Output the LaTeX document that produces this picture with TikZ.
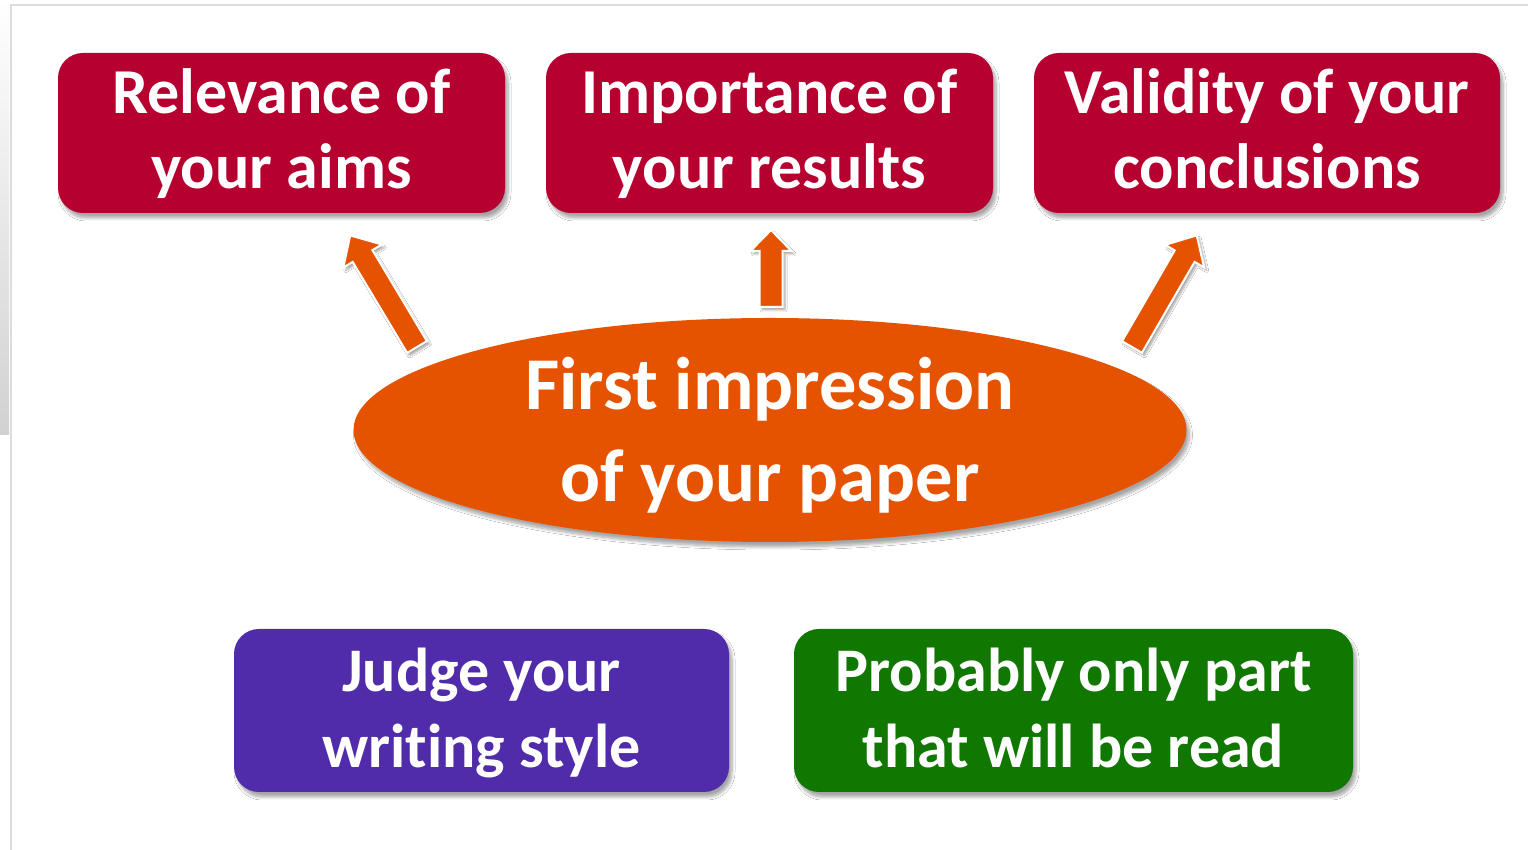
\documentclass[tikz,border=0pt]{standalone}
\usepackage{fontspec}
\setmainfont{Carlito}[Ligatures=NoCommon]
\usetikzlibrary{shapes.geometric,shadows,shadows.blur}
\definecolor{boxred}{RGB}{181,0,48}
\definecolor{ellorange}{RGB}{229,83,0}
\definecolor{boxpurple}{RGB}{81,44,170}
\definecolor{boxgreen}{RGB}{16,120,0}
\definecolor{framegray}{RGB}{220,220,220}
\tikzset{
  softshadow/.style={blur shadow={shadow xshift=3pt,shadow yshift=-5pt,shadow blur radius=3pt,shadow blur steps=8,shadow opacity=35}},
  topbox/.style={rounded corners=25pt, fill=boxred, minimum width=447pt, minimum height=160pt,
     text=white, font=\fontsize{64pt}{75pt}\selectfont\bfseries, align=center, inner sep=0pt,
     text depth=8pt, softshadow},
  lowbox/.style={rounded corners=25pt, minimum height=163pt,
     text=white, font=\fontsize{62pt}{76pt}\selectfont\bfseries, align=center, inner sep=0pt,
     text depth=5pt, softshadow},
  bigell/.style={ellipse, fill=ellorange, minimum width=833pt, minimum height=224pt, inner sep=0pt, softshadow},
  elltext/.style={text=white, font=\fontsize{74.5pt}{92pt}\selectfont\bfseries, align=center, inner sep=0pt,
     text depth=2pt},
  blockarrow/.style={fill=ellorange, draw=white, line width=2pt, line join=miter,
     blur shadow={shadow xshift=2.5pt,shadow yshift=-3pt,shadow blur radius=2pt,shadow blur steps=6,shadow opacity=35}},
}
\begin{document}
\begin{tikzpicture}[x=1pt,y=1pt]
\useasboundingbox (0,0) rectangle (1528,850);
\fill[white] (0,0) rectangle (1528,850);
% slide frame
\shade[top color=white, bottom color=black!18] (0,415) rectangle (9,850);
\draw[framegray, line width=2pt] (11,0) -- (11,845) -- (1528,845);

% top boxes
\node[topbox] (relev) at (281.5,717) {Relevance of\\your aims};
\node[topbox] (import) at (769.5,717) {Importance of\\your results};
\node[topbox, minimum width=466pt] (valid) at (1267,717) {Validity of your\\conclusions};

% ellipse
\node[bigell] (first) at (770,420) {};
\node[elltext] (firstT) at (first.center) {First impression\\of your paper};

% block arrows
\coordinate (tailL) at (417,503);
\coordinate (tailM) at (771,543);
\coordinate (tailR) at (1132,503);
\begin{scope}[shift={(tailL)}, rotate=120.9]
  \draw[blockarrow] (0,-11.5) -- (106,-11.5) -- (106,-22.5) -- (130,0) -- (106,22.5) -- (106,11.5) -- (0,11.5) -- cycle;
\end{scope}
\begin{scope}[shift={(tailM)}, rotate=90]
  \draw[blockarrow] (0,-11.5) -- (56,-11.5) -- (56,-20.5) -- (77,0) -- (56,20.5) -- (56,11.5) -- (0,11.5) -- cycle;
\end{scope}
\begin{scope}[shift={(tailR)}, rotate=59.9]
  \draw[blockarrow] (0,-11.5) -- (105,-11.5) -- (105,-22.5) -- (129,0) -- (105,22.5) -- (105,11.5) -- (0,11.5) -- cycle;
\end{scope}

% bottom boxes
\node[lowbox, fill=boxpurple, minimum width=495pt] (judge) at (481.5,139.5) {Judge your\\writing style};
\node[lowbox, fill=boxgreen, minimum width=559pt] (prob) at (1073.5,139.5) {Probably only part\\that will be read};
\end{tikzpicture}
\end{document}
